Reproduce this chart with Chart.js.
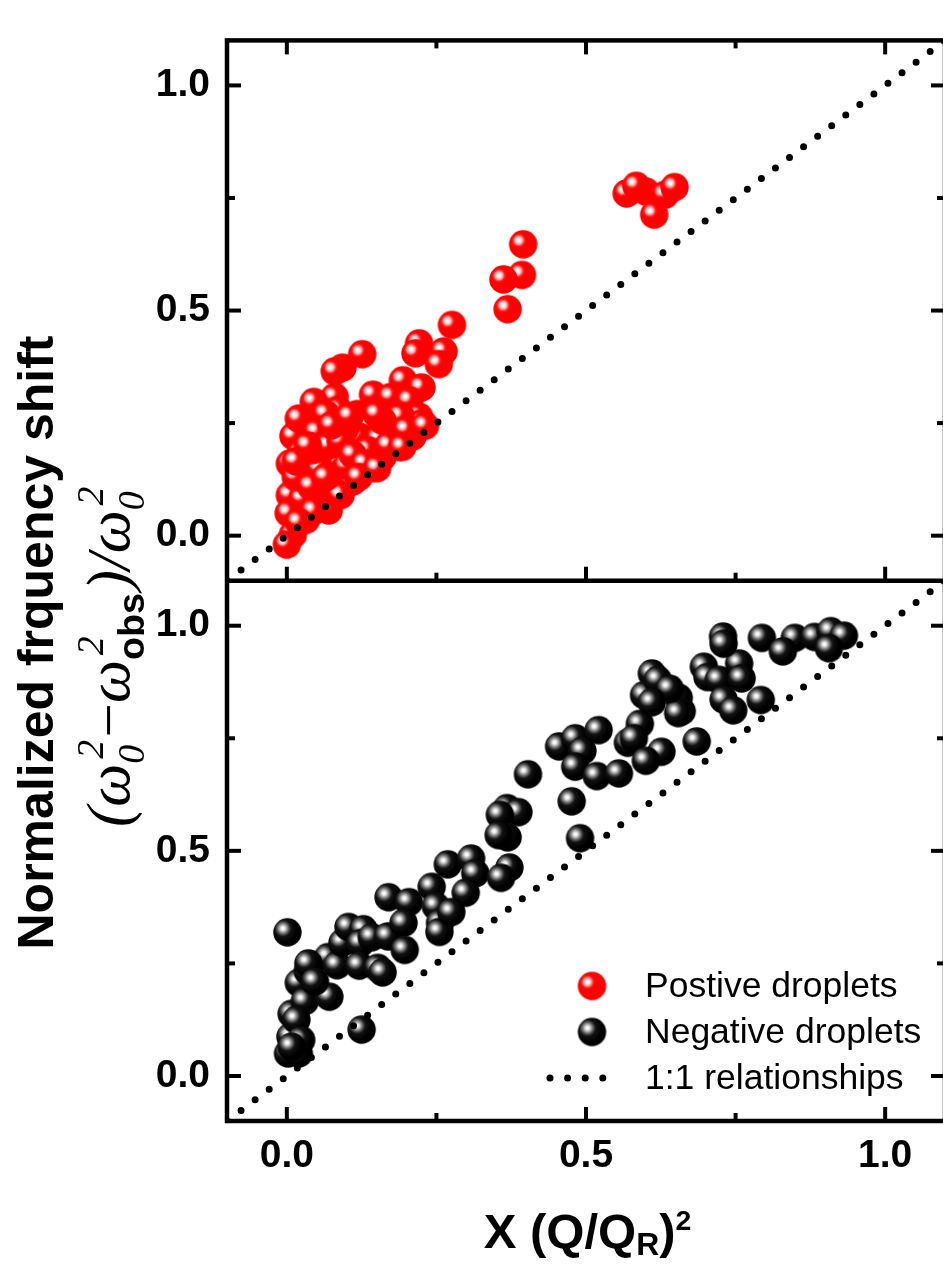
<!DOCTYPE html>
<html>
<head>
<meta charset="utf-8">
<script src="https://cdn.jsdelivr.net/npm/chart.js@4.4.1/dist/chart.umd.min.js"></script>
<style>
html,body{margin:0;padding:0;background:#fff;overflow:hidden;width:943px;height:1266px;}
#wrap{position:relative;width:943px;height:1266px;overflow:hidden;background:#fff;}
#c{position:absolute;left:0;top:0;}
</style>
</head>
<body>
<div id="wrap">
<canvas id="c" width="960" height="1266" style="width:960px;height:1266px"></canvas>
</div>
<script>
// ---------------- data ----------------
const posX = [0.395,0.393,0.362,0.369,0.276,0.221,0.215,0.262,0.254,0.126,0.093,0.080,0.194,0.225,0.144,0.174,0.205,0.080,0.045,0.086,0.118,0.221,0.042,0.137,0.174,0.011,0.023,0.097,0.085,0.005,0.030,0.080,0.005,0.026,0.070,0.003,0.032,0.010,0.000,0.160,0.187,0.143,0.110,0.210,0.226,0.060,0.054,0.043,0.120,0.154,0.568,0.600,0.584,0.632,0.648,0.614,0.062,0.098,0.015,0.135,0.190,0.160,0.100,0.065,0.020,0.050,0.070,0.090,0.110,0.130,0.120,0.090,0.050,0.040,0.015,0.035,0.075,0.105,0.150,0.200,0.170,0.065,0.045,0.020,0.151,0.193,0.231];
const posY = [0.647,0.579,0.569,0.503,0.468,0.427,0.405,0.409,0.381,0.403,0.373,0.365,0.345,0.329,0.313,0.308,0.300,0.308,0.297,0.279,0.270,0.264,0.254,0.246,0.239,0.221,0.183,0.189,0.167,0.160,0.125,0.120,0.090,0.082,0.056,0.050,0.035,0.002,-0.020,0.175,0.197,0.150,0.120,0.220,0.250,0.220,0.150,0.190,0.220,0.215,0.760,0.764,0.777,0.757,0.774,0.713,0.100,0.240,0.130,0.190,0.265,0.255,0.155,0.270,0.260,0.230,0.200,0.210,0.180,0.160,0.130,0.090,0.070,0.110,0.165,0.200,0.245,0.265,0.270,0.235,0.200,0.130,0.055,0.030,0.150,0.197,0.244];
const negX = [0.001,0.008,0.006,0.002,0.020,0.020,0.035,0.030,0.069,0.084,0.071,0.093,0.103,0.128,0.123,0.121,0.142,0.152,0.160,0.169,0.125,0.170,0.204,0.195,0.197,0.242,0.249,0.256,0.255,0.269,0.308,0.315,0.299,0.275,0.368,0.387,0.356,0.369,0.354,0.372,0.358,0.403,0.455,0.482,0.494,0.482,0.521,0.518,0.555,0.476,0.490,0.570,0.729,0.794,0.849,0.882,0.909,0.931,0.829,0.906,0.697,0.703,0.722,0.756,0.760,0.730,0.746,0.792,0.610,0.624,0.597,0.655,0.660,0.654,0.590,0.580,0.626,0.600,0.685,0.036,0.047,0.016,0.024,0.008,0.730,0.620,0.640,0.610];
const negY = [0.319,0.138,0.087,0.050,0.050,0.207,0.233,0.166,0.264,0.246,0.176,0.296,0.331,0.326,0.295,0.245,0.308,0.240,0.230,0.310,0.103,0.397,0.386,0.340,0.280,0.420,0.377,0.340,0.320,0.470,0.483,0.450,0.407,0.364,0.595,0.586,0.580,0.530,0.535,0.463,0.440,0.670,0.732,0.750,0.722,0.687,0.768,0.666,0.672,0.610,0.528,0.740,0.976,0.973,0.973,0.975,0.988,0.978,0.943,0.950,0.909,0.886,0.880,0.916,0.883,0.836,0.812,0.835,0.894,0.865,0.846,0.840,0.810,0.806,0.782,0.750,0.720,0.700,0.743,0.250,0.210,0.125,0.080,0.065,0.960,0.880,0.860,0.830];
const refX = [-0.1, 1.1];
const refY = [-0.1, 1.1];
const xTickValues = [0, 0.25, 0.5, 0.75, 1.0];
const yTickValues = [0, 0.25, 0.5, 0.75, 1.0];
const majorTicks = [0, 0.5, 1.0];
const seriesLabels = ['Postive droplets', 'Negative droplets', '1:1 relationships'];
const yTitleMain = 'Normalized frquency shift';
const yTitleMath = [
  {t: '(', style: 'ital'}, {t: 'ω', style: 'ital'},
  {sup: '2', sub: '0', supStyle: 'ital', subStyle: 'ital'},
  {t: '−', style: 'serif'}, {t: 'ω', style: 'ital'},
  {sup: '2', sub: 'obs', supStyle: 'ital', subStyle: 'bold'},
  {t: ')', style: 'ital'}, {t: '/', style: 'ital'}, {t: 'ω', style: 'ital'},
  {sup: '2', sub: '0', supStyle: 'ital', subStyle: 'ital'}
];
const xTitle = [
  {t: 'X (Q/Q', style: 'bold'},
  {t: 'R', style: 'bold', scale: 0.65, dy: 0.145},
  {t: ')', style: 'bold'},
  {t: '2', style: 'bold', scale: 0.58, dy: -0.37}
];

// ---------------- styles ----------------
const SANS = '"Liberation Sans", Arial, sans-serif';
const SERIF = '"Liberation Serif", "Times New Roman", serif';
function fontStr(style, size) {
  if (style === 'ital') return 'italic ' + size + 'px ' + SERIF;
  if (style === 'serif') return size + 'px ' + SERIF;
  return 'bold ' + size + 'px ' + SANS;
}
function layoutRich(ctx, runs, F, st) {
  let x = 0; const ops = [];
  runs.forEach(r => {
    if (r.sup !== undefined) {
      const s = F * st.scale;
      const f1 = fontStr(r.supStyle, s), f2 = fontStr(r.subStyle, s);
      ctx.font = f1; const w1 = ctx.measureText(r.sup).width + st.supShift * F;
      ctx.font = f2; const w2 = ctx.measureText(r.sub).width;
      ops.push({t: r.sup, font: f1, x: x + st.supShift * F, y: -st.up * F});
      ops.push({t: r.sub, font: f2, x: x, y: st.down * F});
      x += Math.max(w1, w2) + st.gap * F;
    } else {
      const f = fontStr(r.style, F * (r.scale || 1));
      ctx.font = f;
      ops.push({t: r.t, font: f, x: x, y: (r.dy || 0) * F});
      x += ctx.measureText(r.t).width;
    }
  });
  return {ops: ops, width: x};
}
function drawOps(ctx, ops) {
  ops.forEach(o => { ctx.font = o.font; ctx.fillText(o.t, o.x, o.y); });
}

function ball(r, stops) {
  const s = Math.ceil(r * 2) + 2;
  const c = document.createElement('canvas');
  c.width = s; c.height = s;
  const g = c.getContext('2d');
  const cx = s / 2, cy = s / 2;
  const grad = g.createRadialGradient(cx - 4.5, cy - 4, 0, cx - 4.5, cy - 4, r);
  stops.forEach(([o, col]) => grad.addColorStop(o, col));
  g.fillStyle = grad;
  g.beginPath(); g.arc(cx, cy, r, 0, Math.PI * 2); g.fill();
  return c;
}
const redBall = ball(14.2, [[0,'#ffffff'],[0.13,'#fff2f2'],[0.28,'#ff9c9c'],[0.42,'#ff1a1a'],[0.55,'#ff0000'],[1,'#ff0000']]);
const blackBall = ball(14.2, [[0,'#ffffff'],[0.12,'#f2f2f2'],[0.26,'#a8a8a8'],[0.42,'#555555'],[0.58,'#121212'],[1,'#000000']]);

const toPts = (xs, ys) => xs.map((x, i) => ({x: x, y: ys[i]}));

const framePlugin = {
  id: 'frame',
  afterDatasetsDraw(chart, args, opts) {
    const ctx = chart.ctx;
    const x = chart.scales.x, yt = chart.scales.yTop, yb = chart.scales.yBot;
    const L = x.left, R = x.right;
    const seg = (x1, y1, x2, y2) => { ctx.beginPath(); ctx.moveTo(x1, y1); ctx.lineTo(x2, y2); ctx.stroke(); };
    ctx.save();
    ctx.strokeStyle = '#000';
    ctx.lineCap = 'butt';
    ctx.lineWidth = opts.frameWidth;
    ctx.strokeRect(L, yt.top, R - L, yb.bottom - yt.top);
    seg(L, yt.bottom, R, yt.bottom);
    ctx.lineWidth = opts.tickWidth;
    yTickValues.forEach(v => {
      const len = majorTicks.includes(v) ? opts.major : opts.minor;
      [yt, yb].forEach(sc => {
        const py = sc.getPixelForValue(v);
        seg(L, py, L + len, py);
        seg(R, py, R - len, py);
      });
    });
    xTickValues.forEach(v => {
      const len = majorTicks.includes(v) ? opts.major : opts.minor;
      const px = x.getPixelForValue(v);
      seg(px, yt.top, px, yt.top + len);
      seg(px, yt.bottom, px, yt.bottom - len);
      seg(px, yb.bottom, px, yb.bottom - len);
    });
    ctx.restore();
  }
};

const legendPlugin = {
  id: 'panelLegend',
  afterDraw(chart, args, opts) {
    const ctx = chart.ctx;
    const ds = chart.data.datasets;
    const items = [ds[0], ds[1], ds[2]];
    ctx.save();
    items.forEach((d, i) => {
      const cy = opts.y + i * opts.dy;
      if (d.showLine) {
        ctx.strokeStyle = d.borderColor;
        ctx.lineWidth = d.borderWidth;
        ctx.lineCap = 'round';
        ctx.setLineDash(d.borderDash);
        ctx.beginPath(); ctx.moveTo(opts.lineStart, cy); ctx.lineTo(opts.lineEnd, cy); ctx.stroke();
        ctx.setLineDash([]);
      } else {
        const img = d.pointStyle;
        ctx.drawImage(img, opts.x - img.width / 2, cy - img.height / 2);
      }
      ctx.fillStyle = '#000';
      ctx.font = opts.font;
      ctx.textBaseline = 'middle';
      ctx.textAlign = 'left';
      ctx.fillText(d.label, opts.textX, cy + 1);
    });
    ctx.restore();
  }
};

const titlePlugin = {
  id: 'titles',
  afterDraw(chart, args, o) {
    const ctx = chart.ctx;
    ctx.save();
    ctx.fillStyle = '#000';
    ctx.textBaseline = 'alphabetic';
    // y title, first line
    ctx.save();
    ctx.translate(o.main.x, o.main.y);
    ctx.rotate(-Math.PI / 2);
    ctx.textAlign = 'center';
    ctx.font = fontStr('bold', o.main.size);
    ctx.fillText(yTitleMain, 0, 0);
    ctx.restore();
    // y title, math line (scaled to its length)
    ctx.textAlign = 'left';
    const probe = layoutRich(ctx, yTitleMath, 100, o.math.st);
    const F = 100 * o.math.length / probe.width;
    const m = layoutRich(ctx, yTitleMath, F, o.math.st);
    ctx.save();
    ctx.translate(o.math.x, o.math.start);
    ctx.rotate(-Math.PI / 2);
    drawOps(ctx, m.ops);
    ctx.restore();
    // x title
    const xt = layoutRich(ctx, xTitle, o.xt.size, o.math.st);
    ctx.save();
    ctx.translate(o.xt.cx - xt.width / 2, o.xt.base);
    drawOps(ctx, xt.ops);
    ctx.restore();
    ctx.restore();
  }
};

const yScale = (weight) => ({
  type: 'linear', position: 'left', stack: 'panels', stackWeight: 1, weight: weight,
  min: -0.1, max: 1.1,
  grid: {display: false, drawTicks: false},
  border: {display: false},
  afterBuildTicks: s => { s.ticks = yTickValues.map(v => ({value: v})); },
  afterFit: s => { s.width = 227; },
  ticks: {
    padding: 17, color: '#000', autoSkip: false,
    font: {family: SANS, size: 39, weight: 'bold'},
    callback: v => majorTicks.includes(v) ? v.toFixed(1) : ''
  }
});

new Chart(document.getElementById('c'), {
  type: 'scatter',
  data: {
    datasets: [
      {label: seriesLabels[0], data: toPts(posX, posY), xAxisID: 'x', yAxisID: 'yTop', pointStyle: redBall, pointRadius: 14, order: 1},
      {label: seriesLabels[1], data: toPts(negX, negY), xAxisID: 'x', yAxisID: 'yBot', pointStyle: blackBall, pointRadius: 14, order: 1},
      {label: seriesLabels[2], type: 'line', data: toPts(refX, refY), xAxisID: 'x', yAxisID: 'yTop', showLine: true, borderColor: '#000', borderWidth: 7, borderDash: [0, 17.6], borderCapStyle: 'round', pointRadius: 0, fill: false, clip: 0, order: 0},
      {label: seriesLabels[2], type: 'line', data: toPts(refX, refY), xAxisID: 'x', yAxisID: 'yBot', showLine: true, borderColor: '#000', borderWidth: 7, borderDash: [0, 17.6], borderCapStyle: 'round', pointRadius: 0, fill: false, clip: 0, order: 0}
    ]
  },
  options: {
    responsive: false,
    animation: false,
    devicePixelRatio: 1,
    layout: {padding: {left: 0, top: 16.5, right: 12, bottom: 0}},
    plugins: {
      legend: {display: false},
      tooltip: {enabled: false},
      frame: {frameWidth: 4.5, tickWidth: 4, major: 14, minor: 8},
      panelLegend: {x: 592, y: 986, dy: 46, textX: 645, lineStart: 550, lineEnd: 620.2, font: '35.5px ' + SANS},
      titles: {
        main: {x: 53, y: 642.5, size: 50},
        math: {x: 129, start: 827, length: 343, st: {scale: 0.62, up: 0.42, down: 0.24, supShift: 0.08, gap: 0.04}},
        xt: {cx: 587.5, base: 1248, size: 49}
      }
    },
    scales: {
      x: {
        type: 'linear', position: 'bottom', min: -0.1, max: 1.1,
        grid: {display: false, drawTicks: false},
        border: {display: false},
        afterBuildTicks: s => { s.ticks = xTickValues.map(v => ({value: v})); },
        afterFit: s => { s.height = 145; },
        ticks: {
          padding: 12, color: '#000', autoSkip: false, maxRotation: 0,
          font: {family: SANS, size: 39, weight: 'bold'},
          callback: v => majorTicks.includes(v) ? v.toFixed(1) : ''
        }
      },
      yBot: yScale(0),
      yTop: yScale(1)
    }
  },
  plugins: [framePlugin, legendPlugin, titlePlugin]
});
</script>
</body>
</html>
